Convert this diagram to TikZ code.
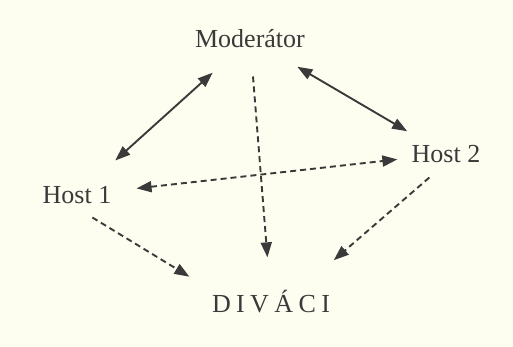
\documentclass[tikz,border=0pt]{standalone}
\usepackage{fontspec}
\setmainfont{Liberation Serif}
\usepackage{tikz}
\usetikzlibrary{arrows.meta}

\definecolor{paper}{RGB}{254,254,240}
\definecolor{ink}{RGB}{58,58,58}

\begin{document}
\begin{tikzpicture}[x=0.5pt, y=-0.5pt,
  lbl/.style={text=ink, inner sep=0pt, font=\fontsize{13}{15}\selectfont},
  link/.style={draw=ink, line width=0.95pt, {Triangle[length=7.5pt,width=5.5pt]}-{Triangle[length=7.5pt,width=5.5pt]}},
  flow/.style={draw=ink, line width=0.95pt, dash pattern=on 3pt off 2pt, -{Triangle[length=7.5pt,width=5.5pt]}}]

% Paper background
\fill[paper] (0,0) rectangle (513,347);
\useasboundingbox (0,0) rectangle (513,347);

% Participants
\node[lbl] (mod) at (250,39) {Moderátor};
\node[lbl] (host1) at (77,195) {Host 1};
\node[lbl] (host2) at (446,154) {Host 2};
\node[lbl] (divaci) at (271,302) {D\hspace{2.7pt}I\hspace{2.7pt}V\hspace{2.7pt}Á\hspace{2.7pt}C\hspace{2.7pt}I};

% Talk between moderator and guests
\draw[link, shorten <=18pt, shorten >=19pt] (mod) -- (host1);
\draw[link, shorten <=18pt, shorten >=13.5pt] (mod) -- (host2);
\draw[flow, {Triangle[length=7.5pt,width=5.5pt]}-{Triangle[length=7.5pt,width=5.5pt]}, shorten <=12.5pt, shorten >=7pt] (host1) -- (host2);

% Towards the audience
\draw[flow, shorten <=14pt, shorten >=16.5pt] (mod) -- (divaci);
\draw[flow, shorten <=9pt, shorten >=13pt] ([yshift=-2pt]host1.south) -- (divaci.north west);
\draw[flow, shorten <=11pt, shorten >=23pt] (host2.south) -- ([xshift=14pt]divaci.north);
\end{tikzpicture}
\end{document}
